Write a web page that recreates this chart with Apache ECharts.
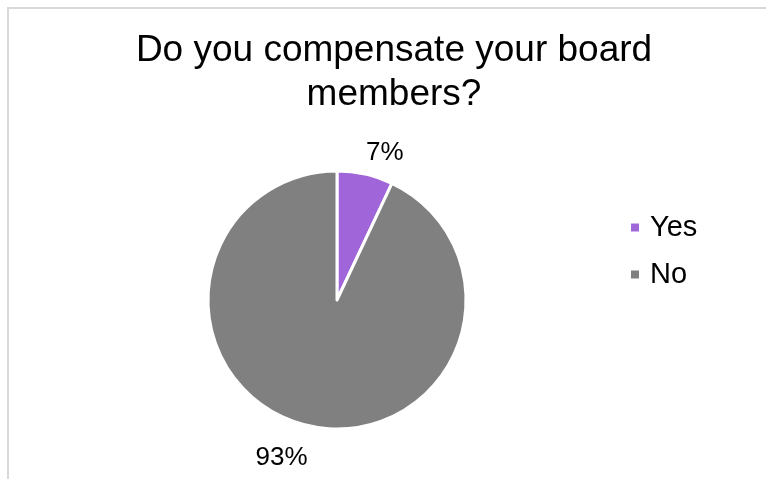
<!DOCTYPE html>
<html>
<head>
<meta charset="utf-8">
<title>Do you compensate your board members?</title>
<script src="https://cdn.jsdelivr.net/npm/echarts@6/dist/echarts.min.js"></script>
<style>
  html, body { margin: 0; padding: 0; background: #fff; }
  #chart { width: 766px; height: 479px; }
</style>
</head>
<body>
<div id="chart"></div>
<script>
// Survey answers and their share of respondents (%)
const categories = ['Yes', 'No'];
const shares = [7, 93];
const sliceColors = ['#a065d9', '#808080'];

// Label leader offsets per slice (label line hidden, only used for placement)
const labelLength = [22, 33];
const labelLength2 = [-4, -6];

const FONT = '"Liberation Sans", Arial, sans-serif';

const chart = echarts.init(document.getElementById('chart'), null, { renderer: 'canvas' });

const pieData = categories.map((name, i) => ({
  name: name,
  value: shares[i],
  itemStyle: { color: sliceColors[i] },
  labelLine: { show: false, length: labelLength[i], length2: labelLength2[i] }
}));

chart.setOption({
  animation: false,
  backgroundColor: '#ffffff',
  graphic: [{
    type: 'rect',
    silent: true,
    shape: { x: 8, y: 8, width: 900, height: 600 },
    style: { fill: 'none', stroke: '#d9d9d9', lineWidth: 2 }
  }],
  title: {
    text: 'Do you compensate your board\nmembers?',
    left: 394,
    top: 29,
    padding: 0,
    textAlign: 'center',
    textStyle: {
      fontFamily: FONT,
      fontSize: 37,
      fontWeight: 'normal',
      color: '#000000',
      lineHeight: 44
    }
  },
  legend: {
    orient: 'vertical',
    left: 629,
    top: 213,
    padding: 0,
    itemWidth: 10,
    itemHeight: 10,
    itemGap: 18,
    icon: 'rect',
    data: categories,
    textStyle: {
      fontFamily: FONT,
      fontSize: 29,
      lineHeight: 29,
      color: '#000000',
      padding: [0, 0, 0, 5]
    }
  },
  series: [{
    type: 'pie',
    center: [337, 300],
    radius: [0, 129],
    startAngle: 90,
    clockwise: true,
    avoidLabelOverlap: false,
    silent: true,
    itemStyle: { borderColor: '#ffffff', borderWidth: 3 },
    label: {
      show: true,
      position: 'outside',
      distanceToLabelLine: 0,
      formatter: '{c}%',
      fontFamily: FONT,
      fontSize: 26,
      color: '#000000'
    },
    labelLine: { show: false },
    data: pieData
  }]
});
</script>
</body>
</html>
